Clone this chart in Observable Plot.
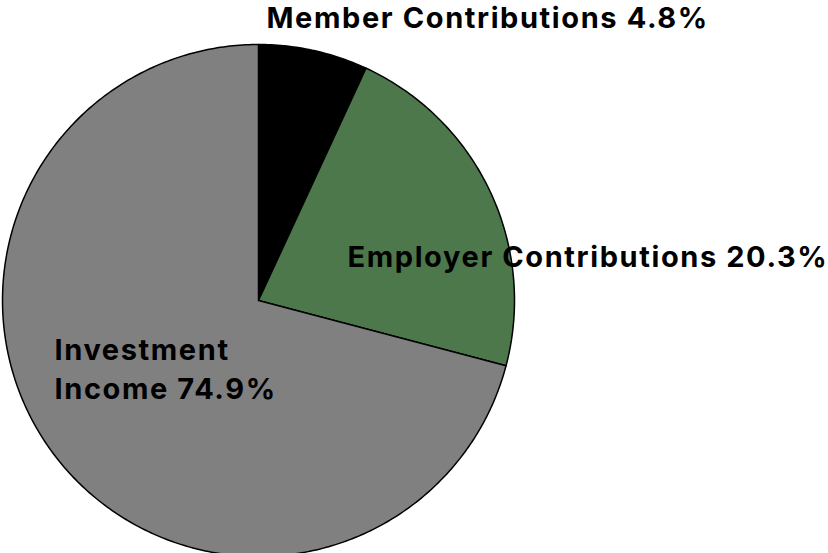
<!DOCTYPE html>
<html>
<head>
<meta charset="utf-8">
<script src="https://cdn.jsdelivr.net/npm/d3@7"></script>
<script src="https://cdn.jsdelivr.net/npm/@observablehq/plot@0.6"></script>
<style>
  html, body { margin: 0; padding: 0; background: #fff; }
  #chart svg { display: block; }
  #chart text { letter-spacing: 1.6px; }
</style>
</head>
<body>
<div id="chart"></div>
<script>
// Data (slice shares as drawn in the picture; label texts as printed)
const categories = ["Member Contributions", "Employer Contributions", "Investment Income"];
const drawnShares = [6.9, 22.2, 70.9];
const labelTexts = ["Member Contributions 4.8%", "Employer Contributions 20.3%", "Investment\nIncome 74.9%"];
const colors = ["#000000", "#4d784b", "#808080"];

// Layout
const W = 828, H = 553;
const cx = 258, cy = 300, R = 256;
// label anchor positions in pie units (radius = 1), y up
const labelPos = [
  {x: (266 - cx) / R, y: (cy - 15) / R},
  {x: (347 - cx) / R, y: (cy - 254) / R},
  {x: (54 - cx) / R, y: (cy - 366.5) / R}
];

const pie = d3.pie().sort(null).value(d => d.value).startAngle(0).endAngle(2 * Math.PI);
const arcs = pie(categories.map((c, i) => ({name: c, value: drawnShares[i], color: colors[i]})));

const pts = [];
for (const a of arcs) {
  pts.push({name: a.data.name, color: a.data.color, x: 0, y: 0});
  const n = Math.max(8, Math.ceil((a.endAngle - a.startAngle) * 80));
  for (let k = 0; k <= n; k++) {
    const t = a.startAngle + (a.endAngle - a.startAngle) * k / n;
    pts.push({name: a.data.name, color: a.data.color, x: Math.sin(t), y: Math.cos(t)});
  }
}

const labels = labelTexts.map((t, i) => ({text: t, ...labelPos[i]}));

const chart = Plot.plot({
  width: W,
  height: H,
  margin: 0,
  x: {domain: [-cx / R, (W - cx) / R], range: [0, W], axis: null},
  y: {domain: [-(H - cy) / R, cy / R], range: [H, 0], axis: null},
  color: {type: "identity"},
  marks: [
    Plot.line(pts, {x: "x", y: "y", z: "name", fill: "color", stroke: "#000", strokeWidth: 1.5, curve: "linear-closed", strokeLinejoin: "round"}),
    Plot.text(labels, {x: "x", y: "y", text: "text", textAnchor: "start", lineAnchor: "middle", lineHeight: 1.345,
      fontSize: 29, fontWeight: 700, fontFamily: "Inter, 'DejaVu Sans', sans-serif", fill: "#000"})
  ]
});
document.getElementById("chart").appendChild(chart);
</script>
</body>
</html>
